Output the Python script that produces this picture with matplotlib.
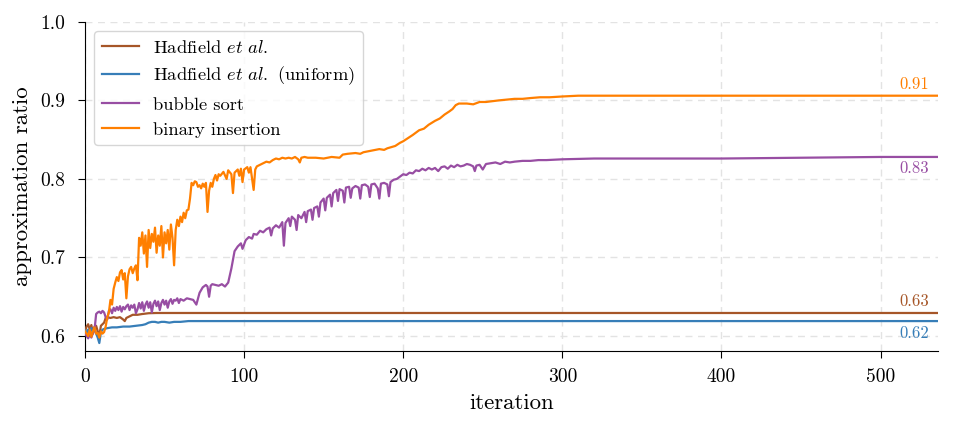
import matplotlib
matplotlib.use("Agg")
import matplotlib.pyplot as plt

plt.rcParams['font.family'] = ['serif']
plt.rcParams['font.serif'] = ['cmr10', 'DejaVu Serif']
plt.rcParams['mathtext.fontset'] = 'cm'
plt.rcParams['axes.formatter.use_mathtext'] = True

# ---- data ----
orange_x = [0,1,2,3,4,5,6,7,8,9,10,11,12,13,14,15,16,17,18,19,20,21,22,23,24,25,26,27,28,29,30,
            31,32,33,34,35,36,37,38,39,40,41,42,43,44,45,46,47,48,49,50,51,52,53,54,55,56,57,58,59,60,
            61,62,63,64,65,66,67,68,69,70,71,72,73,74,75,76,77,78,79,80,81,82,83,84,85,87,89,90,92,93,
            94,96,97,98,99,100,102,103,104,106,107,108,110,112,114,116,118,120,122,124,126,128,130,132,
            134,135,136,138,140,145,150,155,160,162,165,170,173,175,180,185,188,190,195,198,200,203,206,
            210,213,216,220,223,226,229,231,233,235,240,244,248,252,256,260,265,270,275,280,286,292,300,
            310,330,400,536]
orange_y = [0.606,0.603,0.600,0.608,0.599,0.606,0.611,0.603,0.604,0.598,0.606,0.603,0.605,0.612,0.624,
            0.630,0.646,0.640,0.660,0.668,0.675,0.670,0.681,0.684,0.672,0.680,0.648,0.676,0.685,0.688,0.680,
            0.686,0.690,0.671,0.725,0.715,0.732,0.705,0.728,0.688,0.735,0.712,0.730,0.720,0.738,0.706,0.728,
            0.715,0.740,0.700,0.732,0.718,0.735,0.710,0.742,0.725,0.690,0.735,0.748,0.740,0.752,0.745,0.757,
            0.750,0.760,0.761,0.775,0.795,0.792,0.797,0.796,0.790,0.792,0.788,0.794,0.790,0.795,0.758,0.785,
            0.795,0.790,0.800,0.805,0.798,0.806,0.804,0.809,0.800,0.811,0.806,0.782,0.808,0.812,0.804,0.813,
            0.796,0.812,0.815,0.808,0.815,0.786,0.812,0.816,0.818,0.820,0.822,0.821,0.824,0.826,0.825,0.827,
            0.826,0.827,0.826,0.828,0.825,0.821,0.827,0.828,0.827,0.827,0.826,0.828,0.827,0.831,0.832,0.833,
            0.832,0.834,0.836,0.838,0.837,0.839,0.842,0.846,0.848,0.852,0.856,0.862,0.864,0.869,0.874,0.877,
            0.882,0.886,0.889,0.894,0.896,0.896,0.895,0.898,0.898,0.899,0.900,0.901,0.902,0.902,0.903,0.904,
            0.904,0.905,0.906,0.906,0.906,0.906]

purple_x = [0,1,2,3,4,5,6,7,8,9,10,11,12,13,14,15,16,17,18,19,20,21,22,23,24,25,26,27,28,29,30,
            31,32,33,34,35,36,37,38,39,40,41,42,43,44,45,46,47,48,49,50,51,52,53,54,55,56,57,58,59,60,
            62,64,66,68,70,72,74,76,77,78,79,80,82,84,86,88,90,92,94,96,98,99,101,103,105,106,108,110,
            112,114,116,117,118,120,122,124,125,126,128,129,130,132,133,134,136,138,139,140,142,143,144,
            146,147,148,150,151,152,154,155,156,158,159,160,162,163,164,166,167,168,170,172,173,174,176,
            178,179,180,182,184,185,186,188,190,191,192,194,196,198,200,202,204,206,208,210,212,214,216,
            218,220,222,224,226,228,230,232,234,236,238,240,242,244,245,246,248,250,252,255,258,261,264,
            267,270,275,280,285,290,300,320,350,400,450,500,536]
purple_y = [0.604,0.600,0.597,0.602,0.598,0.604,0.608,0.628,0.630,0.631,0.629,0.632,0.630,0.624,0.621,
            0.632,0.634,0.629,0.636,0.632,0.637,0.633,0.638,0.631,0.637,0.634,0.638,0.640,0.633,0.639,0.636,
            0.640,0.629,0.634,0.642,0.635,0.643,0.632,0.640,0.644,0.636,0.643,0.630,0.641,0.645,0.638,0.644,
            0.633,0.642,0.646,0.640,0.645,0.636,0.644,0.647,0.641,0.646,0.645,0.648,0.642,0.647,
            0.645,0.648,0.647,0.646,0.640,0.655,0.662,0.665,0.663,0.650,0.664,0.666,0.665,0.664,0.666,0.663,
            0.668,0.686,0.708,0.714,0.718,0.711,0.722,0.726,0.724,0.730,0.729,0.734,0.732,0.736,0.738,0.728,
            0.737,0.741,0.738,0.745,0.715,0.744,0.750,0.740,0.752,0.748,0.735,0.754,0.750,0.758,0.745,0.759,
            0.761,0.748,0.763,0.765,0.752,0.770,0.775,0.760,0.776,0.780,0.765,0.782,0.786,0.772,0.787,0.785,
            0.770,0.789,0.790,0.776,0.788,0.791,0.789,0.775,0.792,0.793,0.790,0.777,0.793,0.794,0.788,0.775,
            0.794,0.795,0.793,0.778,0.796,0.799,0.800,0.803,0.806,0.805,0.808,0.807,0.811,0.810,0.813,0.811,
            0.814,0.812,0.814,0.810,0.815,0.816,0.813,0.817,0.815,0.818,0.816,0.817,0.819,0.818,0.816,0.810,
            0.817,0.818,0.812,0.819,0.820,0.821,0.819,0.822,0.821,0.822,0.823,0.823,0.824,0.824,0.825,0.826,
            0.826,0.826,0.827,0.828,0.828]

brown_x = [0,1,2,3,4,5,6,7,8,9,10,11,12,13,14,16,18,20,22,24,25,26,28,30,33,36,40,45,536]
brown_y = [0.606,0.612,0.615,0.608,0.614,0.603,0.612,0.613,0.606,0.600,0.613,0.615,0.617,0.623,0.624,
           0.623,0.624,0.623,0.624,0.621,0.619,0.623,0.625,0.627,0.627,0.628,0.629,0.6293,0.6293]

blue_x = [0,1,2,3,4,5,6,7,8,9,10,11,12,14,17,20,24,28,32,36,38,40,42,44,46,48,50,53,56,60,65,70,536]
blue_y = [0.607,0.604,0.608,0.606,0.610,0.605,0.609,0.603,0.598,0.591,0.605,0.608,0.609,0.610,0.611,
          0.611,0.612,0.612,0.613,0.614,0.615,0.617,0.618,0.618,0.617,0.618,0.618,0.617,0.618,0.618,
          0.619,0.619,0.619]

labels = [r'Hadfield $\mathit{et\ al.}$', r'Hadfield $\mathit{et\ al.}$ (uniform)',
          'bubble sort', 'binary insertion']
colors = ['#a65628', '#377eb8', '#984ea3', '#ff7f00']
final_text = ['0.63', '0.62', '0.83', '0.91']
text_above = [True, False, False, True]

xticks = [0, 100, 200, 300, 400, 500]
yticks = [0.6, 0.7, 0.8, 0.9, 1.0]

fig = plt.figure(figsize=(9.55, 4.29), dpi=100)
ax = fig.add_axes([0.089, 0.182, 0.893, 0.767])

series = [(brown_x, brown_y), (blue_x, blue_y), (purple_x, purple_y), (orange_x, orange_y)]
for (xs, ys), lab, c, t, up in zip(series, labels, colors, final_text, text_above):
    ax.plot(xs, ys, color=c, lw=1.6, label=lab, zorder=3)
    ax.annotate(t, xy=(521, ys[-1]), xytext=(0, 3 if up else -3), textcoords='offset points',
                ha='center', va='bottom' if up else 'top', color=c, fontsize=12)

ax.set_xlim(0, 536)
ax.set_ylim(0.581, 1.0)
ax.set_xticks(xticks)
ax.set_yticks(yticks)
ax.set_xticklabels([str(v) for v in xticks])
ax.set_yticklabels([f'{v:.1f}' for v in yticks])
ax.tick_params(labelsize=14, length=5)
ax.tick_params(axis='x', pad=7)
ax.tick_params(axis='y', pad=9)
ax.set_xlabel('iteration', fontsize=16.5, labelpad=6)
ax.set_ylabel('approximation ratio', fontsize=16.5, labelpad=6)
ax.grid(True, linestyle=(0, (5, 4)), color='#e3e3e3', lw=1.0, zorder=0)
ax.spines['top'].set_visible(False)
ax.spines['right'].set_visible(False)
leg = ax.legend(loc='upper left', fontsize=13.3, handlelength=2.0, frameon=True,
                fancybox=True, framealpha=0.8, edgecolor='#cccccc', borderaxespad=0.5)

fig.savefig('out.png', dpi=100)
